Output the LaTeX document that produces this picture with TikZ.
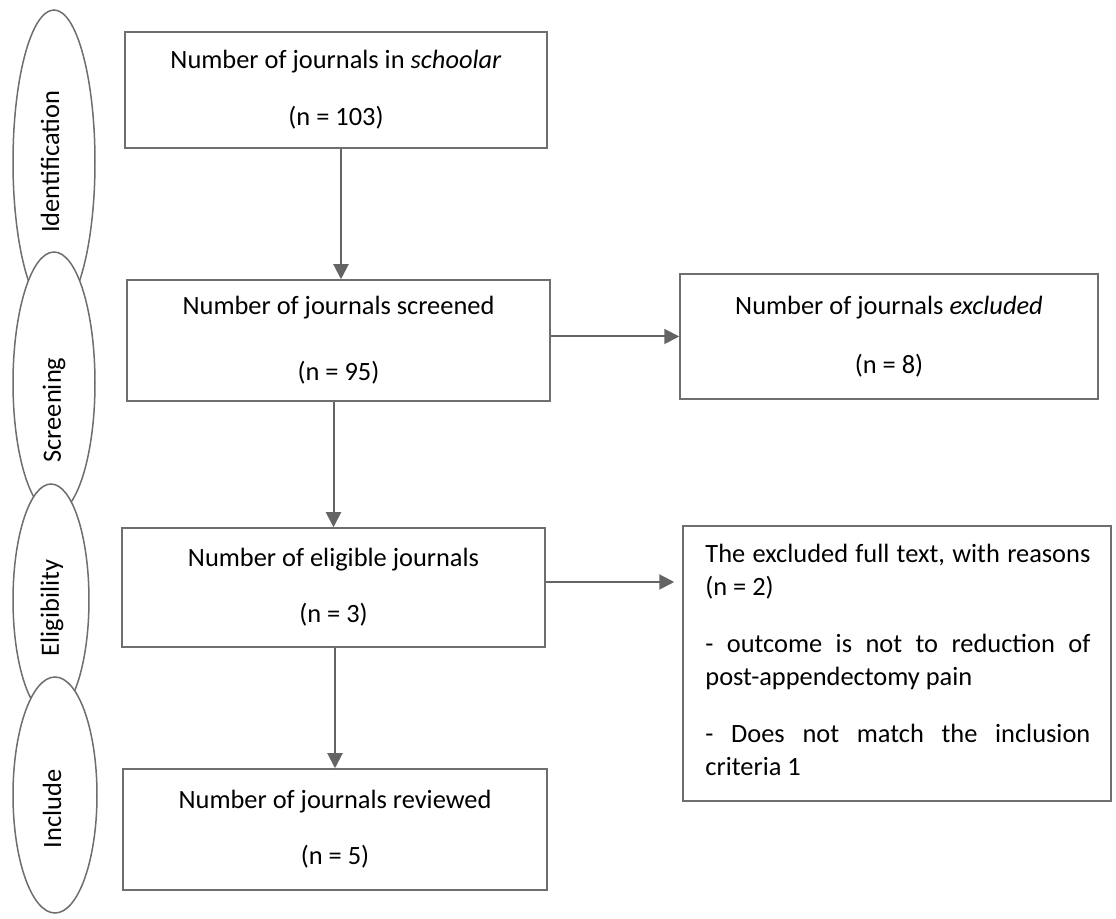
\documentclass[tikz,border=0pt]{standalone}
\usepackage{fontspec}
\setmainfont{Carlito}
\usetikzlibrary{shapes.geometric,arrows.meta}
\definecolor{boxline}{RGB}{110,110,110}
\definecolor{arrline}{RGB}{100,100,100}
\newcommand{\fullline}[1]{\leavevmode\hbox to 192.5pt{#1}}
\begin{document}
\begin{tikzpicture}[x=0.5pt,y=-0.5pt,
  box/.style={draw=boxline,line width=0.75pt,rectangle,inner sep=0pt,align=center,font=\fontsize{13.2}{16}\selectfont},
  phase/.style={draw=boxline,fill=white,line width=0.75pt},
  phasetext/.style={rotate=90,font=\fontsize{13.2}{16}\selectfont,inner sep=0pt},
  arr/.style={draw=arrline,line width=1pt,-{Triangle[width=7.5pt,length=7.5pt]}}]
\useasboundingbox (0,0) rectangle (1116,919);

% phase ellipses (drawn in order, each covering the previous one)
\coordinate (e1) at (54,162);
\coordinate (e2) at (54,383);
\coordinate (e3) at (51,600);
\coordinate (e4) at (55,795);
\draw[phase] (e1) ellipse [x radius=20.5pt, y radius=76pt];
\draw[phase] (e2) ellipse [x radius=20.5pt, y radius=65.5pt];
\draw[phase] (e3) ellipse [x radius=19pt, y radius=58pt];
\draw[phase] (e4) ellipse [x radius=21pt, y radius=59pt];
\node[phasetext] (t1) at (50,162) {Identification};
\node[phasetext] (t2) at (54,410) {Screening};
\node[phasetext] (t3) at (52,608) {Eligibility};
\node[phasetext] (t4) at (52,809) {Include};

% boxes
\node[box,minimum width=211pt,minimum height=58pt] (b1) at (336,90)
  {Number of journals in \textit{schoolar}\\[12.5pt](n = 103)};
\node[box,minimum width=211.5pt,minimum height=60.5pt] (b2) at (338.5,340.5)
  {Number of journals screened\\[17pt](n = 95)};
\node[box,minimum width=209pt,minimum height=62.5pt] (excl) at (889,336.5)
  {Number of journals \textit{excluded}\\[13.5pt](n = 8)};
\node[box,minimum width=211.5pt,minimum height=59.5pt] (b3) at (333.5,587.5)
  {Number of eligible journals\\[12pt](n = 3)};
\node[box,minimum width=212pt,minimum height=60.5pt] (b4) at (335,829.5)
  {Number of journals reviewed\\[12pt](n = 5)};
\node[box,minimum width=214pt,minimum height=137.5pt] (reasons) at (897,663.5) {};
\node[anchor=base west,inner sep=0pt,text width=192.5pt,align=flush left,font=\fontsize{13.2}{16.5}\selectfont] (rtext) at (705,563) {%
\fullline{The\hfill excluded\hfill full\hfill text,\hfill with\hfill reasons}\\
(n = 2)\\[12pt]
\fullline{-\hfill outcome\hfill is\hfill not\hfill to\hfill reduction\hfill of}\\
post-appendectomy pain\\[12pt]
\fullline{-\hfill Does\hfill not\hfill match\hfill the\hfill inclusion}\\
criteria 1};

% connectors
\coordinate (a1s) at ([xshift=2.5pt]b1.south);
\draw[arr] (a1s) -- (a1s |- b2.north);
\draw[arr] (b2.east |- excl.west) -- (excl.west);
\draw[arr] (b2.south -| b3.north) -- (b3.north);
\coordinate (a4s) at ([yshift=2.75pt]b3.east);
\draw[arr,shorten >=4pt] (a4s) -- (a4s -| reasons.west);
\draw[arr] (b4.north |- b3.south) -- (b4.north);
\end{tikzpicture}
\end{document}
